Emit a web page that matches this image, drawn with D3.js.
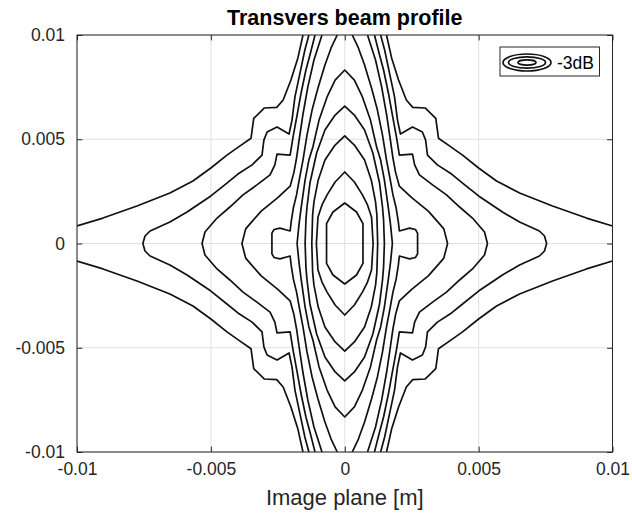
<!DOCTYPE html>
<html>
<head>
<meta charset="utf-8">
<script src="https://cdn.jsdelivr.net/npm/d3@7"></script>
<style>
  body { margin: 0; background: #fff; }
  svg { display: block; }
  text { font-family: "Liberation Sans", Arial, Helvetica, sans-serif; }
</style>
</head>
<body>
<svg id="chart" width="632" height="522"></svg>
<script>
// ---- axis ticks and labels ----
const xTicks = [-0.01, -0.005, 0, 0.005, 0.01];
const xTickLabels = ["-0.01", "-0.005", "0", "0.005", "0.01"];
const yTicks = [-0.01, -0.005, 0, 0.005, 0.01];
const yTickLabels = ["-0.01", "-0.005", "0", "0.005", "0.01"];
const titleText = "Transvers beam profile";
const xLabelText = "Image plane [m]";
const legendLabel = "-3dB";

// ---- contour lines, points in millimetres [x, y] ----
// closed rings around the beam centre (innermost first)
const ring1 = [[-0.68,0],[-0.68,0.95],[-0.44,1.51],[0,1.94],[0.44,1.51],[0.68,0.95],[0.68,0],
  [0.68,-0.95],[0.44,-1.51],[0,-1.94],[-0.44,-1.51],[-0.68,-0.95]];
const ring2 = [[-1.06,0],[-1.00,1.27],[-0.85,1.85],[-0.66,2.33],[-0.36,2.95],[0,3.43],
  [0.36,2.95],[0.66,2.33],[0.85,1.85],[1.00,1.27],[1.06,0],
  [1.00,-1.27],[0.85,-1.85],[0.66,-2.33],[0.36,-2.95],[0,-3.43],
  [-0.36,-2.95],[-0.66,-2.33],[-0.85,-1.85],[-1.00,-1.27]];
const ring3 = [[-1.23,0],[-1.20,1.37],[-1.15,2.00],[-0.99,3.05],[-0.74,4.00],[-0.36,4.72],[0,5.16],
  [0.36,4.72],[0.74,4.00],[0.99,3.05],[1.15,2.00],[1.20,1.37],[1.23,0],
  [1.20,-1.37],[1.15,-2.00],[0.99,-3.05],[0.74,-4.00],[0.36,-4.72],[0,-5.16],
  [-0.36,-4.72],[-0.74,-4.00],[-0.99,-3.05],[-1.15,-2.00],[-1.20,-1.37]];
const ring4 = [[-1.48,0],[-1.45,1.13],[-1.41,1.75],[-1.30,2.90],[-1.05,4.34],[-0.74,5.44],[-0.36,6.16],[0,6.59],
  [0.36,6.16],[0.74,5.44],[1.05,4.34],[1.30,2.90],[1.41,1.75],[1.45,1.13],[1.48,0],
  [1.45,-1.13],[1.41,-1.75],[1.30,-2.90],[1.05,-4.34],[0.74,-5.44],[0.36,-6.16],[0,-6.59],
  [-0.36,-6.16],[-0.74,-5.44],[-1.05,-4.34],[-1.30,-2.90],[-1.41,-1.75],[-1.45,-1.13]];
const ring5 = [[-1.78,0],[-1.71,0.89],[-1.63,1.70],[-1.48,3.05],[-1.34,4.00],[-1.19,4.63],[-0.96,5.92],[-0.66,7.03],[-0.36,7.84],[0,8.32],
  [0.36,7.84],[0.66,7.03],[0.96,5.92],[1.19,4.63],[1.34,4.00],[1.48,3.05],[1.63,1.70],[1.71,0.89],[1.78,0],
  [1.71,-0.89],[1.63,-1.70],[1.48,-3.05],[1.34,-4.00],[1.19,-4.63],[0.96,-5.92],[0.66,-7.03],[0.36,-7.84],[0,-8.32],
  [-0.36,-7.84],[-0.66,-7.03],[-0.96,-5.92],[-1.19,-4.63],[-1.34,-4.00],[-1.48,-3.05],[-1.63,-1.70],[-1.71,-0.89]];

// open lines running from the top edge to the bottom edge
const notchLeft = [[-0.28,10],[-0.51,9.38],[-0.74,8.56],[-1.00,7.46],[-1.22,6.40],[-1.41,5.20],[-1.56,4.00],[-1.70,3.05],[-1.80,2.33],[-1.92,1.70],[-2.00,1.05],[-2.04,0.60],[-2.42,0.74],[-2.64,0.67],[-2.72,0.50],
  [-2.72,-0.50],[-2.64,-0.67],[-2.42,-0.74],[-2.04,-0.60],[-2.00,-1.05],[-1.92,-1.70],[-1.80,-2.33],[-1.70,-3.05],[-1.56,-4.00],[-1.41,-5.20],[-1.22,-6.40],[-1.00,-7.46],[-0.74,-8.56],[-0.51,-9.38],[-0.28,-10]];
const notchRight = [[0.28,10],[0.51,9.38],[0.74,8.56],[1.00,7.46],[1.22,6.40],[1.41,5.20],[1.56,4.00],[1.70,3.05],[1.80,2.33],[1.92,1.70],[2.00,1.05],[2.04,0.60],[2.42,0.74],[2.64,0.67],[2.72,0.50],
  [2.72,-0.50],[2.64,-0.67],[2.42,-0.74],[2.04,-0.60],[2.00,-1.05],[1.92,-1.70],[1.80,-2.33],[1.70,-3.05],[1.56,-4.00],[1.41,-5.20],[1.22,-6.40],[1.00,-7.46],[0.74,-8.56],[0.51,-9.38],[0.28,-10]];
const wing4Left = [[-0.85,10],[-1.15,8.80],[-1.38,7.50],[-1.56,6.20],[-1.70,5.00],[-1.80,4.10],[-1.90,3.40],[-2.04,2.75],[-2.50,2.20],[-3.12,1.55],[-3.50,1.00],[-3.70,0.70],[-3.84,0],
  [-3.70,-0.70],[-3.50,-1.00],[-3.12,-1.55],[-2.50,-2.20],[-2.04,-2.75],[-1.90,-3.40],[-1.80,-4.10],[-1.70,-5.00],[-1.56,-6.20],[-1.38,-7.50],[-1.15,-8.80],[-0.85,-10]];
const wing4Right = [[0.85,10],[1.15,8.80],[1.38,7.50],[1.56,6.20],[1.70,5.00],[1.80,4.10],[1.90,3.40],[2.04,2.75],[2.50,2.20],[3.12,1.55],[3.50,1.00],[3.70,0.70],[3.84,0],
  [3.70,-0.70],[3.50,-1.00],[3.12,-1.55],[2.50,-2.20],[2.04,-2.75],[1.90,-3.40],[1.80,-4.10],[1.70,-5.00],[1.56,-6.20],[1.38,-7.50],[1.15,-8.80],[0.85,-10]];
const wing3Left = [[-1.11,10],[-1.30,9.04],[-1.45,8.32],[-1.63,7.22],[-1.78,6.16],[-1.93,5.11],[-2.04,4.24],[-2.53,4.29],[-2.61,3.77],[-2.79,3.29],[-3.28,2.81],[-3.80,2.33],[-4.29,1.75],[-4.77,1.22],[-5.22,0.55],[-5.33,0],
  [-5.22,-0.55],[-4.77,-1.22],[-4.29,-1.75],[-3.80,-2.33],[-3.28,-2.81],[-2.79,-3.29],[-2.61,-3.77],[-2.53,-4.29],[-2.04,-4.24],[-1.93,-5.11],[-1.78,-6.16],[-1.63,-7.22],[-1.45,-8.32],[-1.30,-9.04],[-1.11,-10]];
const wing3Right = [[1.11,10],[1.30,9.04],[1.45,8.32],[1.63,7.22],[1.78,6.16],[1.93,5.11],[2.04,4.24],[2.53,4.29],[2.61,3.77],[2.79,3.29],[3.28,2.81],[3.80,2.33],[4.29,1.75],[4.77,1.22],[5.22,0.55],[5.33,0],
  [5.22,-0.55],[4.77,-1.22],[4.29,-1.75],[3.80,-2.33],[3.28,-2.81],[2.79,-3.29],[2.61,-3.77],[2.53,-4.29],[2.04,-4.24],[1.93,-5.11],[1.78,-6.16],[1.63,-7.22],[1.45,-8.32],[1.30,-9.04],[1.11,-10]];
const wing2Left = [[-1.34,10],[-1.49,9.28],[-1.67,8.18],[-1.86,7.03],[-1.97,5.92],[-2.08,5.25],[-2.53,5.59],[-2.90,5.35],[-3.02,4.96],[-3.09,4.24],[-3.46,3.77],[-3.99,3.33],[-4.40,2.90],[-5.00,2.28],[-5.89,1.51],[-6.53,1.03],[-7.27,0.60],[-7.46,0.36],[-7.54,0],
  [-7.46,-0.36],[-7.27,-0.60],[-6.53,-1.03],[-5.89,-1.51],[-5.00,-2.28],[-4.40,-2.90],[-3.99,-3.33],[-3.46,-3.77],[-3.09,-4.24],[-3.02,-4.96],[-2.90,-5.35],[-2.53,-5.59],[-2.08,-5.25],[-1.97,-5.92],[-1.86,-7.03],[-1.67,-8.18],[-1.49,-9.28],[-1.34,-10]];
const wing2Right = [[1.34,10],[1.49,9.28],[1.67,8.18],[1.86,7.03],[1.97,5.92],[2.08,5.25],[2.53,5.59],[2.90,5.35],[3.02,4.96],[3.09,4.24],[3.46,3.77],[3.99,3.33],[4.40,2.90],[5.00,2.28],[5.89,1.51],[6.53,1.03],[7.27,0.60],[7.46,0.36],[7.54,0],
  [7.46,-0.36],[7.27,-0.60],[6.53,-1.03],[5.89,-1.51],[5.00,-2.28],[4.40,-2.90],[3.99,-3.33],[3.46,-3.77],[3.09,-4.24],[3.02,-4.96],[2.90,-5.35],[2.53,-5.59],[2.08,-5.25],[1.97,-5.92],[1.86,-7.03],[1.67,-8.18],[1.49,-9.28],[1.34,-10]];

// outermost level, split into four pieces by the plot edges
const edgeUpperLeft = [[-1.56,10],[-1.75,8.90],[-2.01,7.84],[-2.30,6.88],[-2.54,6.53],[-3.00,6.50],[-3.40,6.00],[-3.50,5.05],[-3.91,4.68],[-4.40,4.24],[-5.00,3.62],[-5.67,3.00],[-6.53,2.42],[-7.76,1.80],[-9.03,1.22],[-10,0.84]];
const edgeLowerLeft = [[-1.56,-10],[-1.75,-8.90],[-2.01,-7.84],[-2.30,-6.88],[-2.54,-6.53],[-3.00,-6.50],[-3.40,-6.00],[-3.50,-5.05],[-3.91,-4.68],[-4.40,-4.24],[-5.00,-3.62],[-5.67,-3.00],[-6.53,-2.42],[-7.76,-1.80],[-9.03,-1.22],[-10,-0.84]];
const edgeUpperRight = [[1.56,10],[1.75,8.90],[2.01,7.84],[2.30,6.88],[2.54,6.53],[3.00,6.50],[3.40,6.00],[3.50,5.05],[3.91,4.68],[4.40,4.24],[5.00,3.62],[5.67,3.00],[6.53,2.42],[7.76,1.80],[9.03,1.22],[10,0.84]];
const edgeLowerRight = [[1.56,-10],[1.75,-8.90],[2.01,-7.84],[2.30,-6.88],[2.54,-6.53],[3.00,-6.50],[3.40,-6.00],[3.50,-5.05],[3.91,-4.68],[4.40,-4.24],[5.00,-3.62],[5.67,-3.00],[6.53,-2.42],[7.76,-1.80],[9.03,-1.22],[10,-0.84]];

const closedLines = [ring1, ring2, ring3, ring4, ring5];
const openLines = [notchLeft, notchRight, wing4Left, wing4Right, wing3Left, wing3Right,
  wing2Left, wing2Right, edgeUpperLeft, edgeLowerLeft, edgeUpperRight, edgeLowerRight];

// ---- layout ----
const W = 632, H = 522;
const plot = { left: 77, right: 612.5, top: 35, bottom: 452 };
const axisColor = "#262626";
const gridColor = "#e0e0e0";
const tickFont = 17.5;

const svg = d3.select("#chart");
svg.append("rect").attr("width", W).attr("height", H).attr("fill", "#fff");

const x = d3.scaleLinear().domain([-0.01, 0.01]).range([plot.left, plot.right]);
const y = d3.scaleLinear().domain([-0.01, 0.01]).range([plot.bottom, plot.top]);

// grid
const grid = svg.append("g");
grid.selectAll("line.gx").data(xTicks).join("line")
  .attr("x1", d => x(d)).attr("x2", d => x(d))
  .attr("y1", plot.top).attr("y2", plot.bottom)
  .attr("stroke", gridColor).attr("stroke-width", 1);
grid.selectAll("line.gy").data(yTicks).join("line")
  .attr("y1", d => y(d)).attr("y2", d => y(d))
  .attr("x1", plot.left).attr("x2", plot.right)
  .attr("stroke", gridColor).attr("stroke-width", 1);

// contours (millimetres -> metres)
svg.append("clipPath").attr("id", "plotClip").append("rect")
  .attr("x", plot.left).attr("y", plot.top)
  .attr("width", plot.right - plot.left).attr("height", plot.bottom - plot.top);

const lineOpen = d3.line().x(d => x(d[0] / 1000)).y(d => y(d[1] / 1000));
const lineClosed = d3.line().x(d => x(d[0] / 1000)).y(d => y(d[1] / 1000)).curve(d3.curveLinearClosed);

const contours = svg.append("g").attr("clip-path", "url(#plotClip)")
  .attr("fill", "none").attr("stroke", "#111").attr("stroke-width", 1.7)
  .attr("stroke-linejoin", "round");
contours.selectAll("path.closed").data(closedLines).join("path").attr("d", lineClosed);
contours.selectAll("path.open").data(openLines).join("path").attr("d", lineOpen);

// axes with inward ticks on all four sides
const tickLen = 5.4;
const fmtX = d => xTickLabels[xTicks.indexOf(d)];
const fmtY = d => yTickLabels[yTicks.indexOf(d)];

function styleAxis(g) {
  g.select(".domain").remove();
  g.selectAll(".tick line").attr("stroke", axisColor);
  g.selectAll(".tick text").attr("fill", axisColor).attr("font-size", tickFont);
}

svg.append("g").attr("transform", `translate(0,${plot.bottom})`)
  .call(d3.axisBottom(x).tickValues(xTicks).tickFormat(fmtX).tickSizeInner(-tickLen).tickSizeOuter(0).tickPadding(10.5))
  .call(styleAxis);
svg.append("g").attr("transform", `translate(0,${plot.top})`)
  .call(d3.axisTop(x).tickValues(xTicks).tickFormat("").tickSizeInner(-tickLen).tickSizeOuter(0))
  .call(styleAxis);
svg.append("g").attr("transform", `translate(${plot.left},0)`)
  .call(d3.axisLeft(y).tickValues(yTicks).tickFormat(fmtY).tickSizeInner(-tickLen).tickSizeOuter(0).tickPadding(12))
  .call(styleAxis);
svg.append("g").attr("transform", `translate(${plot.right},0)`)
  .call(d3.axisRight(y).tickValues(yTicks).tickFormat("").tickSizeInner(-tickLen).tickSizeOuter(0))
  .call(styleAxis);

// box
svg.append("rect")
  .attr("x", plot.left).attr("y", plot.top)
  .attr("width", plot.right - plot.left).attr("height", plot.bottom - plot.top)
  .attr("fill", "none").attr("stroke", axisColor).attr("stroke-width", 1);

// title and axis label
svg.append("text").attr("x", (plot.left + plot.right) / 2).attr("y", 25)
  .attr("text-anchor", "middle").attr("font-size", 21.5).attr("font-weight", "bold")
  .attr("fill", "#000").text(titleText);
svg.append("text").attr("x", (plot.left + plot.right) / 2).attr("y", 505)
  .attr("text-anchor", "middle").attr("font-size", 22)
  .attr("fill", axisColor).text(xLabelText);

// legend
const legend = svg.append("g");
legend.append("rect").attr("x", 500).attr("y", 47).attr("width", 99.5).attr("height", 29)
  .attr("fill", "#fff").attr("stroke", axisColor).attr("stroke-width", 1);
const icon = legend.append("g").attr("fill", "none").attr("stroke", "#111").attr("stroke-width", 1.7);
[[24, 8.5], [18.5, 5.6], [9, 2.6]].forEach(([rx, ry]) => {
  icon.append("ellipse").attr("cx", 527).attr("cy", 62.5).attr("rx", rx).attr("ry", ry);
});
legend.append("text").attr("x", 557).attr("y", 68.5).attr("font-size", tickFont)
  .attr("fill", "#000").text(legendLabel);
</script>
</body>
</html>
